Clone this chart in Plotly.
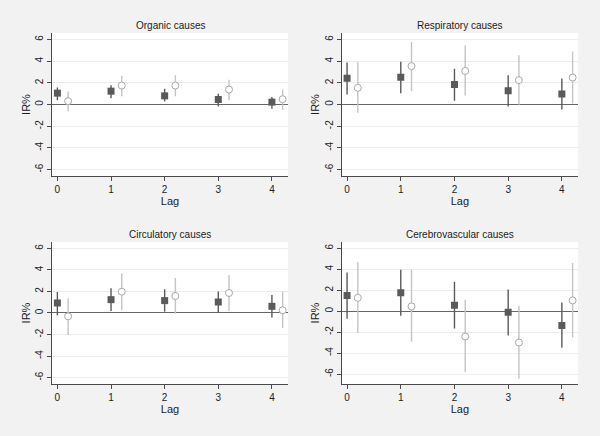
import plotly.graph_objects as go

lags = [0, 1, 2, 3, 4]
causes = ["Organic causes", "Respiratory causes", "Circulatory causes", "Cerebrovascular causes"]

# filled squares (series A)
organic_a = [1.05, 1.23, 0.80, 0.46, 0.22]
organic_a_lo = [0.40, 0.58, 0.28, -0.18, -0.40]
organic_a_hi = [1.57, 1.78, 1.45, 1.00, 0.70]
# hollow circles (series B)
organic_b = [0.31, 1.75, 1.75, 1.38, 0.49]
organic_b_lo = [-0.62, 0.77, 0.77, 0.40, -0.49]
organic_b_hi = [1.20, 2.65, 2.70, 2.28, 1.38]

resp_a = [2.43, 2.52, 1.85, 1.26, 0.98]
resp_a_lo = [0.92, 1.05, 0.34, -0.18, -0.46]
resp_a_hi = [3.88, 3.94, 3.30, 2.70, 2.40]
resp_b = [1.54, 3.54, 3.10, 2.25, 2.49]
resp_b_lo = [-0.77, 1.23, 0.83, -0.03, 0.09]
resp_b_hi = [3.90, 5.78, 5.45, 4.55, 4.90]

circ_a = [0.93, 1.24, 1.15, 1.02, 0.62]
circ_a_lo = [-0.22, 0.19, 0.12, 0.00, -0.43]
circ_a_hi = [1.95, 2.29, 2.20, 2.00, 1.67]
circ_b = [-0.31, 1.98, 1.58, 1.86, 0.25]
circ_b_lo = [-2.04, 0.25, -0.06, 0.19, -1.39]
circ_b_hi = [1.36, 3.68, 3.25, 3.53, 1.98]

cereb_a = [1.50, 1.75, 0.57, -0.10, -1.37]
cereb_a_lo = [-0.73, -0.45, -1.66, -2.32, -3.50]
cereb_a_hi = [3.69, 3.95, 2.80, 2.07, 0.83]
cereb_b = [1.27, 0.45, -2.42, -2.99, 1.02]
cereb_b_lo = [-2.07, -2.93, -5.83, -6.46, -2.48]
cereb_b_hi = [4.68, 3.95, 1.08, 0.51, 4.59]

y_ticks = [-6, -4, -2, 0, 2, 4, 6]

panels = [
    (organic_a, organic_a_lo, organic_a_hi, organic_b, organic_b_lo, organic_b_hi),
    (resp_a, resp_a_lo, resp_a_hi, resp_b, resp_b_lo, resp_b_hi),
    (circ_a, circ_a_lo, circ_a_hi, circ_b, circ_b_lo, circ_b_hi),
    (cereb_a, cereb_a_lo, cereb_a_hi, cereb_b, cereb_b_lo, cereb_b_hi),
]

x_domains = [[0.0867, 0.48], [0.5695, 0.9633], [0.0867, 0.48], [0.5695, 0.9633]]
y_domains = [[0.5963, 0.9243], [0.5963, 0.9243], [0.1193, 0.445], [0.1193, 0.445]]
y_ranges = [[-6.6, 6.6], [-6.6, 6.6], [-6.6, 6.6], [-6.95, 6.6]]

DARK = "#5a5a5a"
LIGHT = "#c4c4c4"
AXIS = "#4a4a4a"
FONT = "Liberation Sans, Arial, sans-serif"

fig = go.Figure()
layout = {}
annotations = []
offset = 0.2
for i, (a, alo, ahi, b, blo, bhi) in enumerate(panels):
    n = i + 1
    xa = "x" if n == 1 else f"x{n}"
    ya = "y" if n == 1 else f"y{n}"
    fig.add_trace(go.Scatter(
        x=lags, y=a, mode="markers", xaxis=xa, yaxis=ya, showlegend=False,
        marker=dict(symbol="square", size=7, color=DARK, line=dict(width=0)),
        error_y=dict(type="data", symmetric=False,
                     array=[h - v for h, v in zip(ahi, a)],
                     arrayminus=[v - l for v, l in zip(a, alo)],
                     color=DARK, thickness=1.4, width=0),
    ))
    fig.add_trace(go.Scatter(
        x=[l + offset for l in lags], y=b, mode="markers", xaxis=xa, yaxis=ya, showlegend=False,
        marker=dict(symbol="circle", size=7, color="white", line=dict(width=1, color="#a8a8a8")),
        error_y=dict(type="data", symmetric=False,
                     array=[h - v for h, v in zip(bhi, b)],
                     arrayminus=[v - l for v, l in zip(b, blo)],
                     color=LIGHT, thickness=1.4, width=0),
    ))
    kx = "xaxis" if n == 1 else f"xaxis{n}"
    ky = "yaxis" if n == 1 else f"yaxis{n}"
    layout[kx] = dict(
        domain=x_domains[i], anchor=ya, range=[-0.1, 4.3], automargin=False,
        tickvals=lags, ticks="outside", ticklen=4, tickcolor=AXIS,
        showline=True, linecolor=AXIS, linewidth=1, showgrid=False, zeroline=False,
        tickfont=dict(size=10, color="#222", family=FONT),
        title=dict(text="Lag", font=dict(size=11, color="#222", family=FONT), standoff=3),
    )
    layout[ky] = dict(
        domain=y_domains[i], anchor=xa, range=y_ranges[i], automargin=False,
        tickvals=y_ticks, ticktext=[str(t) for t in y_ticks], tickangle=-90,
        ticks="outside", ticklen=4, tickcolor=AXIS, ticklabelstandoff=0,
        showline=True, linecolor=AXIS, linewidth=1,
        showgrid=True, gridcolor="#ececec", gridwidth=1,
        zeroline=True, zerolinecolor="#666666", zerolinewidth=1.4,
        tickfont=dict(size=10, color="#222", family=FONT),
        title=dict(text="IR%", font=dict(size=11, color="#222", family=FONT), standoff=1),
    )
    xd = x_domains[i]
    annotations.append(dict(
        text=causes[i], x=(xd[0] + xd[1]) / 2, y=y_domains[i][1],
        xref="paper", yref="paper", xanchor="center", yanchor="bottom",
        showarrow=False, font=dict(size=10, color="#222", family=FONT),
    ))

fig.update_layout(
    width=600, height=436,
    margin=dict(l=0, r=0, t=0, b=0),
    paper_bgcolor="#f2f2f2", plot_bgcolor="white",
    annotations=annotations,
    **layout,
)
fig.write_html(
    "out.html",
    config={"displayModeBar": False},
    post_script="document.body.style.margin='0';document.body.style.overflow='hidden';",
)
